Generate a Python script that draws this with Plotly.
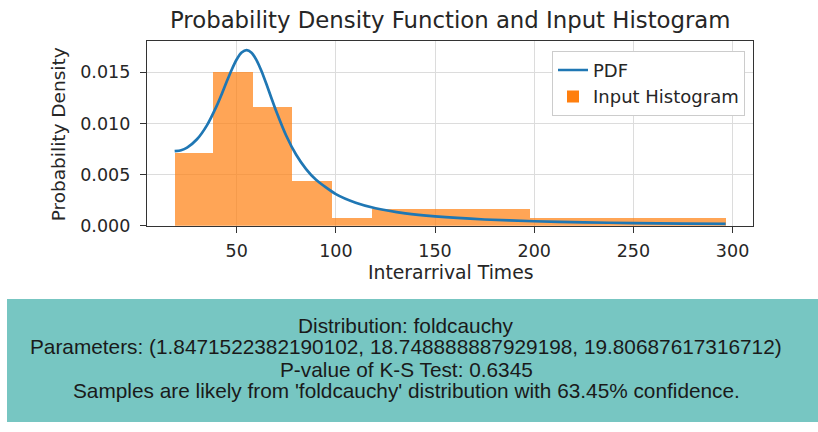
import plotly.graph_objects as go

# Histogram of interarrival times (density-normalised), variable-width bins
bin_edges = [18.75, 38.3, 58.1, 78.1, 98.2, 118.3, 197.9, 296.5]
bin_density = [0.00710, 0.01500, 0.01163, 0.00437, 0.00076, 0.00162, 0.00074]

# Fitted foldcauchy probability density, sampled along the x range
pdf_x = [18.75, 22, 25, 30, 35, 40, 42.5, 45, 47.5, 50, 52.5, 55, 57.5, 60,
         62.5, 65, 67.5, 70, 75, 80, 85, 90, 100, 110, 120, 135, 150, 175,
         200, 225, 250, 275, 296.5]
pdf_y = [0.00729, 0.00738, 0.00764, 0.00845, 0.00981, 0.01174, 0.01288,
         0.01409, 0.01525, 0.01625, 0.01693, 0.01717, 0.01692, 0.01620,
         0.01513, 0.01385, 0.01249, 0.01116, 0.00879, 0.00693, 0.00553,
         0.00448, 0.00308, 0.00224, 0.00170, 0.00120, 0.00090, 0.00060,
         0.00043, 0.00032, 0.00025, 0.00020, 0.00017]

x_ticks = [50, 100, 150, 200, 250, 300]
y_ticks = [0.000, 0.005, 0.010, 0.015]

summary_lines = [
    "Distribution: foldcauchy",
    "Parameters: (1.8471522382190102, 18.748888887929198, 19.80687617316712)",
    "P-value of K-S Test: 0.6345",
    "Samples are likely from 'foldcauchy' distribution with 63.45% confidence.",
]

W, H = 818, 432
bin_left = bin_edges[:-1]
bin_width = [b - a for a, b in zip(bin_edges[:-1], bin_edges[1:])]

fig = go.Figure()
fig.add_trace(go.Scatter(
    x=pdf_x, y=pdf_y, mode="lines", name="PDF",
    line=dict(color="#1f77b4", width=2.7, shape="spline", smoothing=0.6),
))
fig.add_trace(go.Bar(
    x=bin_left, y=bin_density, width=bin_width, offset=0,
    name="Input Histogram",
    marker=dict(color="#ff7f0e", opacity=0.7, line=dict(width=0)),
))

axis_common = dict(
    showline=True, linecolor="#333333", linewidth=1.3, mirror=True,
    ticks="outside", ticklen=6, tickwidth=1.3, tickcolor="#333333",
    showgrid=True, gridcolor="#dcdcdc", gridwidth=1.2, zeroline=False,
    tickfont=dict(family="DejaVu Sans", size=17.5, color="#262626"),
)

fig.update_layout(
    width=W, height=H,
    margin=dict(l=0, r=0, t=0, b=0),
    paper_bgcolor="white", plot_bgcolor="white",
    font=dict(family="DejaVu Sans", color="#262626"),
    bargap=0,
    xaxis=dict(domain=[147 / W, 753 / W], range=[4.8, 310.3],
               tickvals=x_ticks, ticklabelstandoff=3, **axis_common),
    yaxis=dict(domain=[1 - 231 / H, 1 - 42 / H], range=[0, 0.01806],
               tickvals=y_ticks, tickformat=".3f", ticklabelstandoff=6,
               **axis_common),
    legend=dict(
        x=745 / W, xanchor="right", y=1 - 52 / H, yanchor="top",
        bgcolor="white", bordercolor="#cccccc", borderwidth=1,
        font=dict(family="DejaVu Sans", size=18, color="#262626"),
    ),
    showlegend=True,
)

# Summary panel under the chart
fig.add_shape(type="rect", xref="paper", yref="paper",
              x0=7 / W, x1=1, y0=0, y1=1 - 306 / H,
              fillcolor="#77c6c2", line=dict(width=0), layer="below")

annotations = [
    dict(text="Probability Density Function and Input Histogram",
         x=450 / W, y=1 - 20 / H, font=dict(size=22.8)),
    dict(text="Interarrival Times", x=450 / W, y=1 - 279 / H,
         font=dict(size=18.8)),
    dict(text="Probability Density", x=58 / W, y=1 - 137.5 / H,
         textangle=-90, font=dict(size=18.5)),
]
for line, yc in zip(summary_lines, [333, 355, 378, 400]):
    annotations.append(dict(
        text=line, x=406 / W, y=1 - yc / H,
        font=dict(family="Liberation Sans", size=20.8, color="#1a1a1a")))

for a in annotations:
    a.update(xref="paper", yref="paper", showarrow=False,
             xanchor="center", yanchor="middle")
fig.update_layout(annotations=annotations)

fig.write_html("out.html")
